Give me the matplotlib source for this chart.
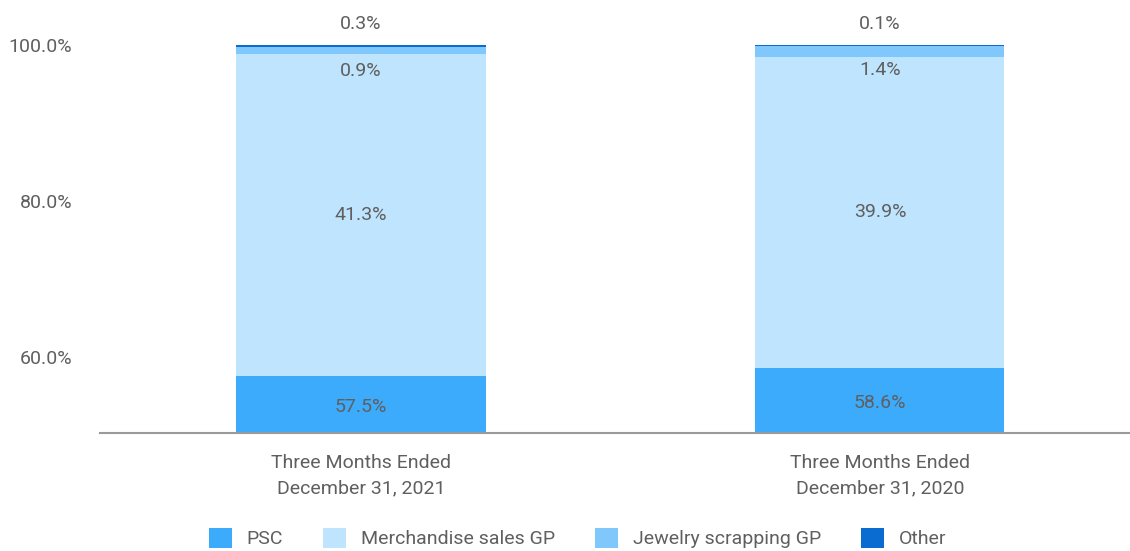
import matplotlib.pyplot as plt
from matplotlib.patches import Patch
import numpy as np

# ---------------- data ----------------
periods  = ["Three Months Ended\nDecember 31, 2021", "Three Months Ended\nDecember 31, 2020"]
psc      = [57.5, 58.6]
merch    = [41.3, 39.9]
jewelry  = [0.9, 1.4]
other    = [0.3, 0.1]
series_names = ["PSC", "Merchandise sales GP", "Jewelry scrapping GP", "Other"]
colors   = ["#3dabfb", "#bfe4fd", "#80c8fb", "#0a6bd0"]
y_ticks  = [60, 80, 100]

plt.rcParams["font.family"] = ["Roboto", "DejaVu Sans"]
txt_col = "#5f5f5f"

fig = plt.figure(figsize=(11.3, 5.51), dpi=100)
ax = fig.add_axes([100 / 1130, (551 - 433) / 551, 1030 / 1130, (433 - 45) / 551])

x = np.arange(len(periods))
w = 0.48
ymin = 50.25

bottom = np.zeros(len(periods))
for vals, c in zip([psc, merch, jewelry, other], colors):
    ax.bar(x, vals, w, bottom=bottom, color=c, edgecolor="none")
    bottom = bottom + np.array(vals)

# ---------------- labels ----------------
fs = 14
for i in range(len(periods)):
    # psc: middle of the visible part
    ax.text(x[i], (ymin + psc[i]) / 2 - 0.3, f"{psc[i]:.1f}%", ha="center", va="center",
            fontsize=fs, color=txt_col)
    ax.text(x[i], psc[i] + merch[i] / 2, f"{merch[i]:.1f}%", ha="center", va="center",
            fontsize=fs, color=txt_col)
    top_j = psc[i] + merch[i] + jewelry[i]
    ax.annotate(f"{jewelry[i]:.1f}%", (x[i], top_j), xytext=(0, -24),
                textcoords="offset pixels", ha="center", va="center",
                fontsize=fs, color=txt_col)
    ax.annotate(f"{other[i]:.1f}%", (x[i], top_j + other[i]), xytext=(0, 21),
                textcoords="offset pixels", ha="center", va="center",
                fontsize=fs, color=txt_col, annotation_clip=False)

ax.set_xlim(-0.503, 1.482)
ax.set_ylim(ymin, 100)
ax.set_yticks(y_ticks)
ax.set_yticklabels([f"{v:.1f}%" for v in y_ticks], fontsize=fs, color=txt_col)
ax.set_xticks(x)
ax.set_xticklabels(periods, fontsize=fs, color=txt_col, linespacing=1.57)
ax.tick_params(axis="both", length=0)
ax.tick_params(axis="y", pad=20)
ax.tick_params(axis="x", pad=15)

for s in ["top", "right", "left"]:
    ax.spines[s].set_visible(False)
ax.spines["bottom"].set_color("#9a9a9a")
ax.spines["bottom"].set_linewidth(1.5)

# ---------------- legend ----------------
handles = [Patch(facecolor=c, edgecolor="none") for c in colors]
fig.legend(handles, series_names, loc="lower center", ncol=4, frameon=False,
           bbox_to_anchor=(0.511, -0.027), fontsize=fs, labelcolor=txt_col,
           handlelength=1.2, handleheight=1.2, columnspacing=2.05, handletextpad=0.75)

fig.savefig("out.png", dpi=100)
